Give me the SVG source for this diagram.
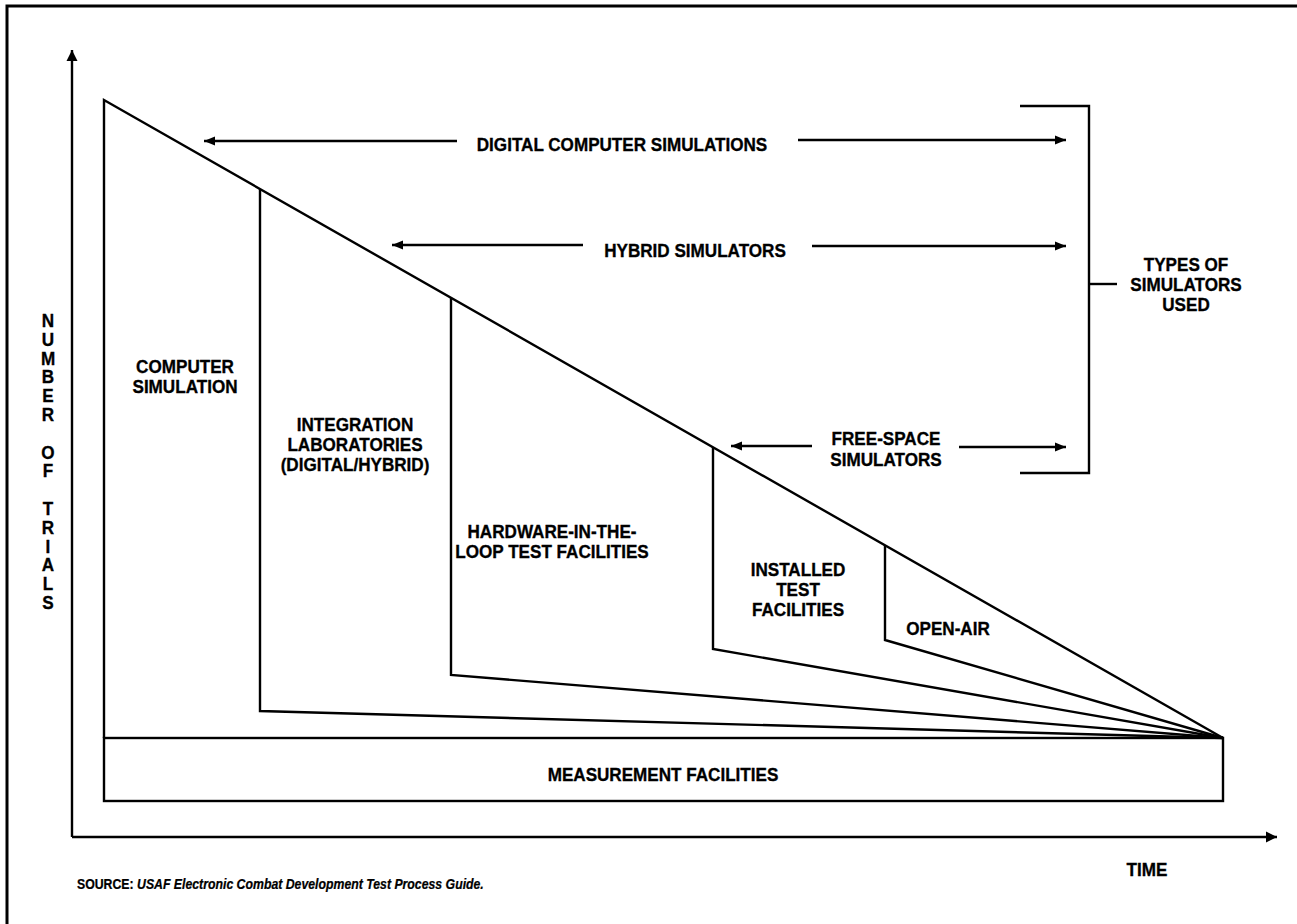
<svg xmlns="http://www.w3.org/2000/svg" width="1297" height="924" viewBox="0 0 1297 924">
<style>
.ln{fill:none;stroke:#000;stroke-width:2.4;stroke-linejoin:miter}
.ax{fill:none;stroke:#000;stroke-width:2.4}
.t{font-family:"Liberation Sans",Arial,Helvetica,sans-serif;font-weight:bold;font-size:19px;text-anchor:middle;fill:#000;stroke:#000;stroke-width:0.35}
.s{font-family:"Liberation Sans",Arial,Helvetica,sans-serif;font-weight:bold;font-size:14px;fill:#000;stroke:#000;stroke-width:0.25}
</style>
<defs>
<marker id="ah" markerUnits="userSpaceOnUse" markerWidth="12" markerHeight="10" refX="11" refY="5" orient="auto">
<path d="M0,0.5 L11,5 L0,9.5 z" fill="#000"/>
</marker>
<marker id="axh" markerUnits="userSpaceOnUse" markerWidth="12" markerHeight="12" refX="11" refY="6" orient="auto">
<path d="M0,0.5 L11,6 L0,11.5 z" fill="#000"/>
</marker>
</defs>
<rect x="7" y="6" width="1300" height="930" fill="#fff" stroke="#000" stroke-width="3"/>

<g id="connectors">
<line class="ax" x1="72" y1="837" x2="72" y2="50" marker-end="url(#axh)"/>
<line class="ax" x1="72" y1="837" x2="1277" y2="837" marker-end="url(#axh)"/>
<line class="ax" x1="457" y1="141" x2="204" y2="141" marker-end="url(#ah)"/>
<line class="ax" x1="798" y1="140" x2="1066" y2="140" marker-end="url(#ah)"/>
<line class="ax" x1="583" y1="245" x2="392" y2="245" marker-end="url(#ah)"/>
<line class="ax" x1="812" y1="246" x2="1066" y2="246" marker-end="url(#ah)"/>
<line class="ax" x1="812" y1="446" x2="731" y2="446" marker-end="url(#ah)"/>
<line class="ax" x1="959" y1="447" x2="1066" y2="447" marker-end="url(#ah)"/>
<polyline class="ax" points="1020,106 1089,106 1089,473 1020,473"/>
<line class="ax" x1="1089" y1="284" x2="1117" y2="284"/>
</g>

<g id="measurement-facilities">
<rect class="ln" x="104" y="738" width="1119" height="63"/>
<text class="t" transform="translate(663,781) scale(0.9 1)">MEASUREMENT FACILITIES</text>
</g>

<g id="computer-simulation">
<polyline class="ln" points="104,738 104,100 1223,738"/>
<text class="t" transform="translate(185,373) scale(0.9 1)"><tspan x="0" y="0">COMPUTER</tspan><tspan x="0" y="20">SIMULATION</tspan></text>
</g>

<g id="integration-laboratories">
<polyline class="ln" points="260,189 260,711 1223,738"/>
<text class="t" transform="translate(355,431) scale(0.9 1)"><tspan x="0" y="0">INTEGRATION</tspan><tspan x="0" y="20">LABORATORIES</tspan><tspan x="0" y="40">(DIGITAL/HYBRID)</tspan></text>
</g>

<g id="hardware-in-the-loop">
<polyline class="ln" points="451,298 451,675 1223,738"/>
<text class="t" transform="translate(552,538) scale(0.9 1)"><tspan x="0" y="0">HARDWARE-IN-THE-</tspan><tspan x="0" y="20">LOOP TEST FACILITIES</tspan></text>
</g>

<g id="installed-test-facilities">
<polyline class="ln" points="713,447 713,649 1223,738"/>
<text class="t" transform="translate(798,576) scale(0.9 1)"><tspan x="0" y="0">INSTALLED</tspan><tspan x="0" y="20">TEST</tspan><tspan x="0" y="40">FACILITIES</tspan></text>
</g>

<g id="open-air">
<polyline class="ln" points="885,545 885,640 1223,738"/>
<text class="t" transform="translate(948,635) scale(0.9 1)">OPEN-AIR</text>
</g>

<g id="digital-computer-simulations">
<text class="t" transform="translate(622,151) scale(0.9 1)">DIGITAL COMPUTER SIMULATIONS</text>
</g>

<g id="hybrid-simulators">
<text class="t" transform="translate(695,257) scale(0.9 1)">HYBRID SIMULATORS</text>
</g>

<g id="free-space-simulators">
<text class="t" transform="translate(886,445) scale(0.9 1)"><tspan x="0" y="0">FREE-SPACE</tspan><tspan x="0" y="21">SIMULATORS</tspan></text>
</g>

<g id="types-of-simulators">
<text class="t" transform="translate(1186,271) scale(0.9 1)"><tspan x="0" y="0">TYPES OF</tspan><tspan x="0" y="20">SIMULATORS</tspan><tspan x="0" y="40">USED</tspan></text>
</g>

<g id="y-axis-label">
<text class="t" transform="translate(48,327) scale(0.9 1)"><tspan x="0" y="0">N</tspan><tspan x="0" y="18.8">U</tspan><tspan x="0" y="37.6">M</tspan><tspan x="0" y="56.4">B</tspan><tspan x="0" y="75.2">E</tspan><tspan x="0" y="94">R</tspan><tspan x="0" y="131.6">O</tspan><tspan x="0" y="150.4">F</tspan><tspan x="0" y="188">T</tspan><tspan x="0" y="206.8">R</tspan><tspan x="0" y="225.6">I</tspan><tspan x="0" y="244.4">A</tspan><tspan x="0" y="263.2">L</tspan><tspan x="0" y="282">S</tspan></text>
</g>

<g id="x-axis-label">
<text class="t" transform="translate(1147,876) scale(0.9 1)">TIME</text>
</g>

<g id="source">
<text class="s" transform="translate(77,889) scale(0.878 1)">SOURCE: <tspan font-style="italic">USAF Electronic Combat Development Test Process Guide.</tspan></text>
</g>
</svg>
